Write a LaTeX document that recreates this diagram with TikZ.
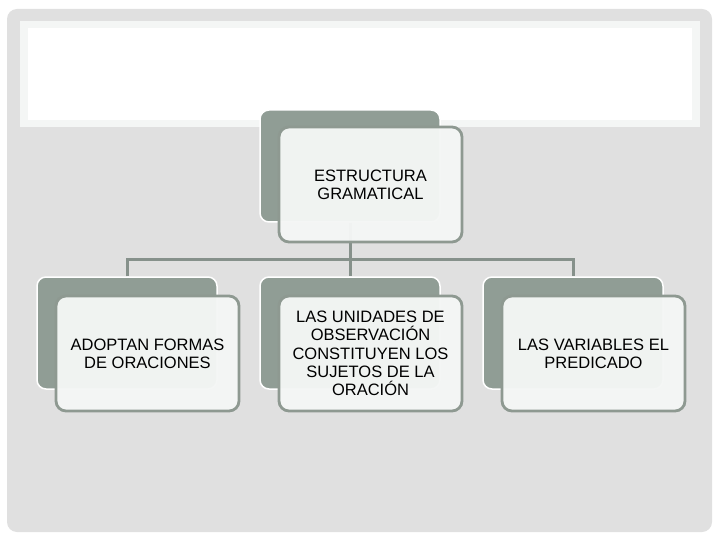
\documentclass[tikz,border=0pt]{standalone}
\usepackage{fontspec}
\setmainfont{Liberation Sans}
\definecolor{panel}{HTML}{E0E0E0}
\definecolor{bandedge}{HTML}{F4F6F5}
\definecolor{backc}{HTML}{909D95}
\definecolor{framec}{HTML}{8E9991}
\definecolor{frontc}{HTML}{F4F6F5}
\definecolor{connc}{HTML}{86918B}
\begin{document}
\begin{tikzpicture}[x=1pt,y=-1pt,
  backbox/.style={fill=backc, draw=white, line width=1.5pt, rounded corners=9pt,
    minimum width=180pt, minimum height=112pt, inner sep=0pt},
  frontbox/.style={fill=frontc, fill opacity=0.97, text opacity=1, draw=framec, line width=2.8pt,
    rounded corners=10pt, minimum width=183pt, minimum height=115pt, inner sep=0pt,
    align=center, font=\fontsize{16.5}{18.3}\selectfont},
  conn/.style={draw=connc, line width=3pt}]
\useasboundingbox (0,0) rectangle (720,540);
\fill[white] (0,0) rectangle (720,540);
\fill[panel, rounded corners=10pt] (7,9) rectangle (712,532);
\fill[bandedge] (20,21) rectangle (700,127);
\fill[white] (28,28) rectangle (692,120);
% back boxes
\node[backbox] (b0) at (350,166) {};
\node[backbox] (b1) at (127,333) {};
\node[backbox] (b2) at (350,333) {};
\node[backbox] (b3) at (573,333) {};
% connectors
\coordinate (j) at (350,259);
\draw[conn] (b0.south) -- (j);
\draw[conn] (b1.north) |- (j) -| (b3.north);
\draw[conn] (j) -- (b2.north);
% front boxes
\node[frontbox] (f0) at (370.5,184.5) {ESTRUCTURA\\GRAMATICAL};
\node[frontbox] (f1) at (147.5,353.5) {ADOPTAN FORMAS\\DE ORACIONES};
\node[frontbox] (f2) at (370.5,353.5) {LAS UNIDADES DE\\OBSERVACIÓN\\CONSTITUYEN LOS\\SUJETOS DE LA\\ORACIÓN};
\node[frontbox] (f3) at (593.5,353.5) {LAS VARIABLES EL\\PREDICADO};
\end{tikzpicture}
\end{document}
